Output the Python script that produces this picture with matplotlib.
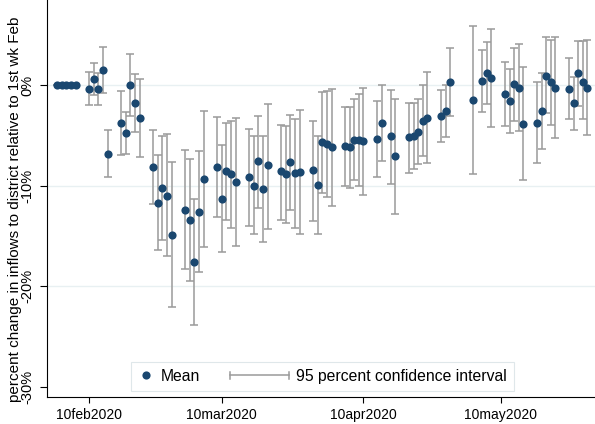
import matplotlib
matplotlib.use('Agg')
import matplotlib.pyplot as plt
from matplotlib.lines import Line2D
import pandas as pd

plt.rcParams['font.family'] = ['Liberation Sans', 'DejaVu Sans']

# weekdays only; a few days are missing in the source
dates = [
    '2020-02-03', '2020-02-04', '2020-02-05', '2020-02-06', '2020-02-07',
    '2020-02-10', '2020-02-11', '2020-02-12', '2020-02-13', '2020-02-14',
    '2020-02-17', '2020-02-18', '2020-02-19', '2020-02-20', '2020-02-21',
    '2020-02-24', '2020-02-25', '2020-02-26', '2020-02-27', '2020-02-28',
    '2020-03-02', '2020-03-03', '2020-03-04', '2020-03-05', '2020-03-06',
    '2020-03-09', '2020-03-10', '2020-03-11', '2020-03-12', '2020-03-13',
    '2020-03-16', '2020-03-17', '2020-03-18', '2020-03-19', '2020-03-20',
    '2020-03-23', '2020-03-24', '2020-03-25', '2020-03-26', '2020-03-27',
    '2020-03-30', '2020-03-31', '2020-04-01', '2020-04-02', '2020-04-03',
    '2020-04-06', '2020-04-07', '2020-04-08', '2020-04-09', '2020-04-10',
    '2020-04-13', '2020-04-14', '2020-04-16', '2020-04-17',
    '2020-04-20', '2020-04-21', '2020-04-22', '2020-04-23', '2020-04-24',
    '2020-04-27', '2020-04-28', '2020-04-29',
    '2020-05-04', '2020-05-06', '2020-05-07', '2020-05-08',
    '2020-05-11', '2020-05-12', '2020-05-13', '2020-05-14', '2020-05-15',
    '2020-05-18', '2020-05-19', '2020-05-20', '2020-05-21', '2020-05-22',
    '2020-05-25', '2020-05-26', '2020-05-27', '2020-05-28', '2020-05-29',
]

mean = [
    0, 0, 0, 0, 0,
    -0.4, 0.6, -0.4, 1.5, -6.9,
    -3.8, -4.8, 0.0, -1.8, -3.3,
    -8.2, -11.7, -10.2, -11.0, -14.9,
    -12.4, -13.4, -17.6, -12.6, -9.4,
    -8.2, -11.3, -8.6, -8.9, -9.6,
    -9.2, -10.0, -7.6, -10.3, -8.0,
    -8.6, -8.9, -7.7, -8.8, -8.7,
    -8.5, -9.9, -5.7, -5.9, -6.2,
    -6.1, -6.2, -5.5, -5.5, -5.6,
    -5.4, -3.8, -5.1, -7.1,
    -5.2, -5.1, -4.7, -3.6, -3.3,
    -3.1, -2.6, 0.3,
    -1.5, 0.4, 1.2, 0.7,
    -0.9, -1.6, 0.1, -0.3, -3.9,
    -3.8, -2.6, 0.9, 0.3, -0.3,
    -0.4, -1.8, 1.2, 0.3, -0.3,
]

ci_low = [
    0, 0, 0, 0, 0,
    -2.0, -1.0, -2.0, -0.8, -9.2,
    -7.0, -6.9, -3.1, -4.7, -7.2,
    -11.8, -16.4, -15.4, -17.0, -22.1,
    -18.3, -19.5, -23.9, -18.6, -16.1,
    -13.1, -16.6, -13.4, -14.2, -16.0,
    -14.0, -14.8, -12.2, -15.6, -14.3,
    -13.4, -13.7, -12.4, -14.2, -14.8,
    -13.5, -14.8, -10.7, -11.1, -12.0,
    -10.0, -10.2, -9.5, -10.0, -10.9,
    -9.2, -7.6, -9.8, -12.8,
    -8.8, -8.4, -7.9, -7.1, -7.8,
    -5.7, -5.2, -3.1,
    -8.9, -2.7, -1.9, -4.2,
    -4.1, -4.8, -3.6, -4.6, -9.5,
    -7.8, -6.4, -2.8, -4.0, -5.3,
    -3.4, -4.5, -2.1, -3.4, -5.0,
]

ci_high = [
    0, 0, 0, 0, 0,
    1.3, 2.2, 1.2, 3.8, -4.5,
    -0.6, -2.7, 3.1, 1.1, 0.6,
    -4.5, -7.0, -5.1, -4.9, -7.7,
    -6.5, -7.4, -11.3, -6.6, -2.6,
    -3.2, -6.0, -3.8, -3.6, -3.3,
    -4.4, -5.1, -3.1, -5.1, -1.9,
    -4.0, -4.1, -3.0, -3.4, -2.5,
    -3.6, -5.1, -0.7, -0.6, -0.4,
    -2.2, -2.2, -1.4, -0.9, -0.3,
    -1.6, 0.0, -0.5, -1.4,
    -1.8, -1.8, -1.4, 0.0, 1.3,
    -0.5, 0.0, 3.7,
    5.9, 3.5, 4.3, 5.6,
    2.3, 1.6, 3.7, 4.1, 1.8,
    0.3, 1.2, 4.8, 4.5, 4.8,
    2.7, 0.8, 4.4, 4.4, 4.5,
]

tick_dates = ['2020-02-10', '2020-03-10', '2020-04-10', '2020-05-10']
tick_labels = ['10feb2020', '10mar2020', '10apr2020', '10may2020']
y_ticks = [0, -10, -20, -30]
y_tick_labels = ['0%', '-10%', '-20%', '-30%']

navy = '#1a476f'
bar_gray = '#9a9a9a'
grid_col = '#e8f0f2'


class CapKey:
    pass


class CapHandler:
    """Legend key drawn as a horizontal range with end caps"""
    def legend_artist(self, legend, orig_handle, fontsize, handlebox):
        x0, y0 = handlebox.xdescent, handlebox.ydescent
        w, h = handlebox.width, handlebox.height
        right = x0 + w
        left = right - 43
        ym = y0 + h / 2
        c = 2.4
        tr = handlebox.get_transform()
        for xs, ys in [([left, right], [ym, ym]), ([left, left], [ym - c, ym + c]),
                       ([right, right], [ym - c, ym + c])]:
            handlebox.add_artist(Line2D(xs, ys, color=bar_gray, lw=1.1, transform=tr))
        return None


x = pd.to_datetime(dates)
err_lo = [m - lo for m, lo in zip(mean, ci_low)]
err_hi = [hi - m for m, hi in zip(mean, ci_high)]

fig = plt.figure(figsize=(5.95, 4.24), dpi=100)
ax = fig.add_axes([0.0795, 0.0644, 0.9205, 0.9356])

for v in y_ticks[:-1]:
    ax.axhline(v, color=grid_col, lw=1.0, zorder=0)

ax.errorbar(x, mean, yerr=[err_lo, err_hi], fmt='none', ecolor=bar_gray,
            elinewidth=1.1, capsize=2.6, capthick=1.1, zorder=2)
ax.plot(x, mean, 'o', color=navy, markersize=5.9, markeredgewidth=0, zorder=3)

start = pd.Timestamp('2020-02-10')
ax.set_xlim(start - pd.Timedelta(days=9.19), start + pd.Timedelta(days=110.66))
ax.set_ylim(-31.0, 8.45)

ax.set_xticks(pd.to_datetime(tick_dates))
ax.set_xticklabels(tick_labels, fontsize=10)
ax.set_yticks(y_ticks)
ax.set_yticklabels(y_tick_labels, fontsize=10.5, rotation=90, va='center')
ax.tick_params(axis='x', length=4, width=0.8, pad=4)
ax.tick_params(axis='y', length=5, width=0.8, pad=4)

ax.set_ylabel('percent change in inflows to district relative to 1st wk Feb', fontsize=11.0)
# centred a bit below the axes middle, as in the original
ax.yaxis.set_label_coords(-0.047, 0.473)

for s in ['top', 'right']:
    ax.spines[s].set_visible(False)
for s in ['left', 'bottom']:
    ax.spines[s].set_linewidth(0.8)

dot = Line2D([], [], marker='o', ls='none', color=navy, markersize=5.9, markeredgewidth=0)
cap_key = CapKey()
leg = ax.legend([dot, cap_key], ['Mean', '95 percent confidence interval'],
                handler_map={cap_key: CapHandler()}, ncol=2, fontsize=11.3,
                handlelength=1.0, handletextpad=0.45, columnspacing=4.7,
                borderpad=0.45, fancybox=False, framealpha=1, edgecolor='#dfe7ea',
                loc='center', bbox_to_anchor=(322.4 / 595, 1 - 376.2 / 424),
                bbox_transform=fig.transFigure)
leg.get_frame().set_linewidth(0.8)

fig.savefig('out.png', dpi=100)
